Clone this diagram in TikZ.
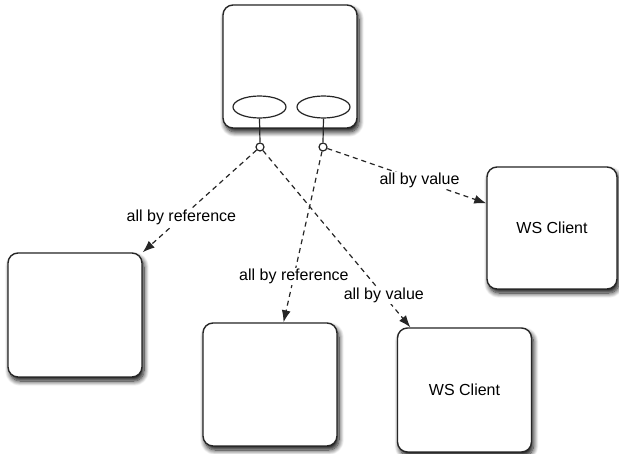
\documentclass[tikz,border=0pt]{standalone}
\usepackage{fontspec}
\setmainfont{Liberation Sans}
\usetikzlibrary{shapes.geometric,arrows.meta,shadows.blur,calc}
\begin{document}
\begin{tikzpicture}[x=1pt,y=-1pt,
  box/.style={draw=black!85, line width=1.4pt, fill=white, rounded corners=10pt,
    blur shadow={shadow xshift=2pt, shadow yshift=-4pt, shadow blur radius=5pt, shadow blur steps=10, shadow opacity=95},
    font=\fontsize{16}{19}\selectfont},
  port/.style={draw=black!85, line width=1.2pt, ellipse, fill=white, minimum width=53pt, minimum height=22pt, inner sep=0pt},
  pin/.style={draw=black!85, line width=1.2pt, circle, fill=white, minimum size=8pt, inner sep=0pt},
  call/.style={draw=black!85, line width=1.2pt, dash pattern=on 5pt off 4pt, -{Latex[length=12pt,width=9pt]}},
  lbl/.style={fill=white, inner sep=1pt, font=\fontsize{16}{19}\selectfont}
]
\useasboundingbox (0,0) rectangle (619,454);

\node[box, minimum width=134pt, minimum height=123pt] (T) at (290,66.5) {};
\node[box, minimum width=134pt, minimum height=124pt] (L) at (75,315) {};
\node[box, minimum width=134pt, minimum height=123pt] (M) at (270,384.5) {};
\node[box, minimum width=134pt, minimum height=124pt] (BR) at (464.5,390) {WS Client};
\node[box, minimum width=130pt, minimum height=122pt] (R) at (552,228) {WS Client};

\node[port] (e1) at (259.5,107) {};
\node[port] (e2) at (323.5,107) {};
\node[pin] (c1) at (260,147) {};
\node[pin] (c2) at (323,147) {};
\draw[draw=black!85, line width=1.2pt] (e1.south) -- (c1.north);
\draw[draw=black!85, line width=1.2pt] (e2.south) -- (c2.north);

\draw[call] (c1) -- (L.north east) node[lbl, pos=0.66] {all by reference};
\draw[call] (c1) -- ($(BR.north west)!0.1!(BR.north east)$) node[lbl, pos=0.82] {all by value};
\draw[call] (c2) -- ($(M.north west)!0.6!(M.north east)$) node[lbl, pos=0.73] {all by reference};
\draw[call] (c2) -- ($(R.north west)!0.3!(R.south west)$) node[lbl, pos=0.58] {all by value};
\end{tikzpicture}
\end{document}
